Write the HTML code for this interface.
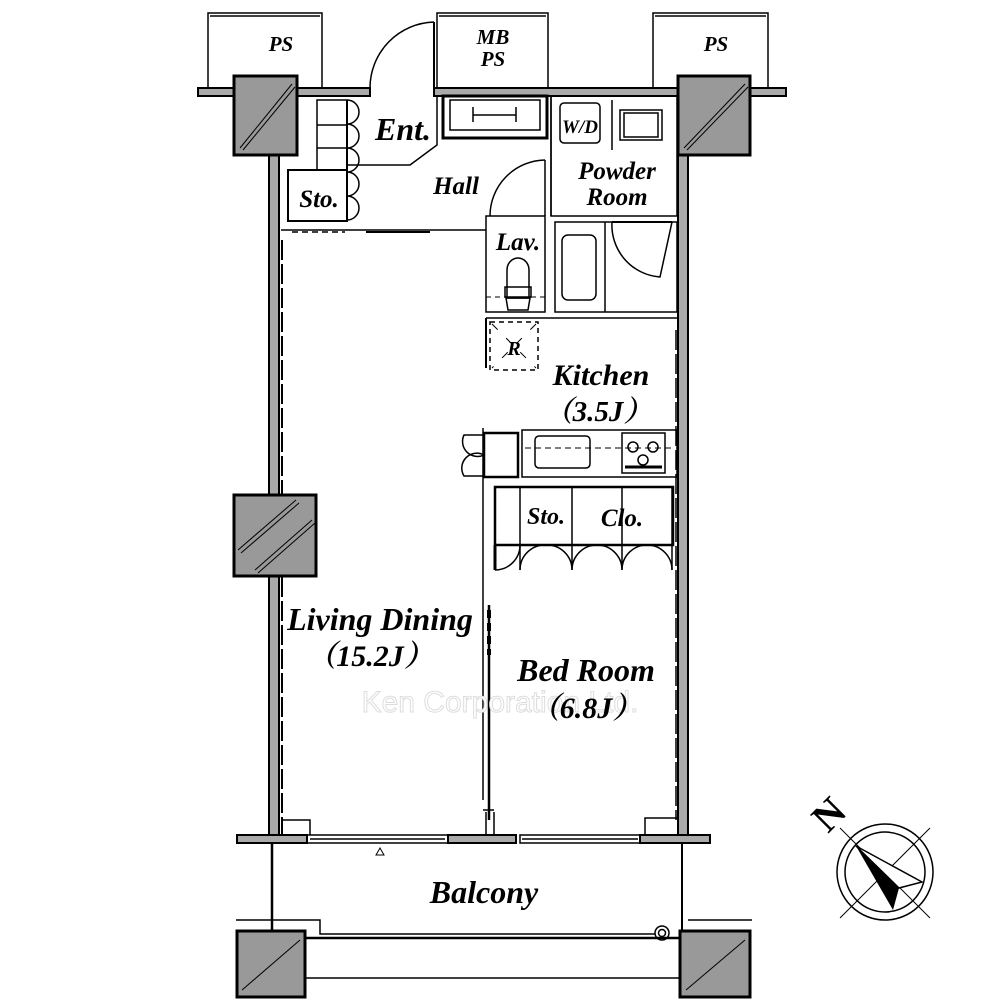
<!DOCTYPE html>
<html><head><meta charset="utf-8"><style>
html,body{margin:0;padding:0;background:#fff}
svg{display:block}
text{font-family:"Liberation Serif","Noto Serif CJK SC",serif;font-weight:bold;font-style:italic;fill:#000}
</style></head><body>
<svg width="1000" height="1000" viewBox="0 0 1000 1000" xmlns="http://www.w3.org/2000/svg">
<g fill="none" stroke="#000" stroke-width="1.5">
<rect x="208" y="13" width="114" height="75"/><line x1="210" y1="16" x2="320" y2="16"/>
<rect x="437" y="13" width="111" height="75"/><line x1="439" y1="16" x2="546" y2="16"/>
<rect x="653" y="13" width="115" height="75"/><line x1="655" y1="16" x2="766" y2="16"/>
</g>
<g fill="#aaa" stroke="#000" stroke-width="2">
<rect x="198" y="88" width="40" height="8"/>
<rect x="295" y="88" width="75" height="8"/>
<rect x="434" y="88" width="246" height="8"/>
<rect x="748" y="88" width="38" height="8"/>
<rect x="269" y="155" width="10" height="682"/>
<rect x="678" y="155" width="10" height="682"/>
<rect x="237" y="835" width="70" height="8"/>
<rect x="448" y="835" width="68" height="8"/>
<rect x="640" y="835" width="70" height="8"/>
</g>
<g fill="#999" stroke="#000" stroke-width="3">
<rect x="234" y="76" width="63" height="79"/>
<rect x="678" y="76" width="72" height="79"/>
<rect x="234" y="495" width="82" height="81"/>
<rect x="237" y="931" width="68" height="66"/>
<rect x="680" y="931" width="70" height="66"/>
</g>
<g stroke="#000" stroke-width="1">
<line x1="240" y1="148" x2="292" y2="84"/><line x1="243" y1="150" x2="295" y2="87"/>
<line x1="684" y1="148" x2="745" y2="84"/><line x1="687" y1="150" x2="748" y2="87"/>
<line x1="238" y1="550" x2="296" y2="500"/><line x1="241" y1="553" x2="299" y2="503"/>
<line x1="255" y1="570" x2="312" y2="520"/><line x1="258" y1="573" x2="315" y2="523"/>
<line x1="242" y1="990" x2="300" y2="940"/><line x1="686" y1="990" x2="745" y2="940"/>
</g>
<g fill="none" stroke="#000" stroke-width="1.5">
<line x1="434" y1="22" x2="434" y2="90" stroke-width="2"/>
<path d="M434 22 A66 66 0 0 0 370 88"/>
<rect x="443" y="96" width="104" height="42" stroke-width="3"/>
<rect x="450" y="100" width="90" height="30"/>
<line x1="473" y1="115" x2="516" y2="115"/><line x1="473" y1="107" x2="473" y2="122"/><line x1="516" y1="107" x2="516" y2="122"/>
<rect x="317" y="100" width="30" height="70"/>
<line x1="317" y1="125" x2="347" y2="125"/><line x1="317" y1="148" x2="347" y2="148"/>
<line x1="347" y1="100" x2="347" y2="222" stroke-width="2"/>
<path d="M347 100 A12 12 0 0 1 347 124 A12 12 0 0 1 347 148 A12 12 0 0 1 347 172 A12 12 0 0 1 347 196 A12 12 0 0 1 347 220"/>
<rect x="288" y="170" width="59" height="51" stroke-width="2"/>
<path d="M347 165 L410 165 L437 145 L437 96"/>
<path d="M281 230 L486 230"/>
<line x1="292" y1="232" x2="345" y2="232" stroke-dasharray="6 4"/>
<line x1="366" y1="232" x2="430" y2="232" stroke-width="2"/>
<line x1="551" y1="96" x2="551" y2="216"/>
<rect x="486" y="216" width="59" height="96"/>
<line x1="545" y1="160" x2="545" y2="216"/>
<path d="M545 160 A56 56 0 0 0 490 216"/>
<path d="M507 298 L507 270 A11 12 0 0 1 529 270 L529 298 Z"/>
<rect x="505" y="287" width="26" height="10"/>
<path d="M506 298 L530 298 L528 310 L508 310 Z"/>
<line x1="486" y1="297" x2="545" y2="297" stroke-dasharray="5 4" stroke-width="1"/>
<rect x="551" y="96" width="126" height="120"/>
<rect x="560" y="103" width="40" height="40" rx="4"/>
<rect x="620" y="110" width="42" height="30"/><rect x="624" y="113" width="34" height="24"/>
<line x1="612" y1="100" x2="612" y2="150"/>
<rect x="555" y="222" width="122" height="90"/>
<line x1="605" y1="222" x2="605" y2="312"/>
<rect x="562" y="235" width="34" height="65" rx="6"/>
<path d="M612 222 A52 52 0 0 0 660 277 L672 222"/>
<line x1="612" y1="222" x2="672" y2="222" stroke-width="2"/>
<rect x="490" y="322" width="48" height="48" stroke-dasharray="5 4"/>
<line x1="492" y1="324" x2="536" y2="368" stroke-dasharray="8 12" stroke-width="1"/>
<line x1="536" y1="324" x2="492" y2="368" stroke-dasharray="8 12" stroke-width="1"/>
<line x1="486" y1="318" x2="486" y2="368" stroke-width="2"/>
<line x1="486" y1="318" x2="677" y2="318"/>
<rect x="522" y="430" width="155" height="47"/>
<rect x="535" y="436" width="55" height="32" rx="4"/>
<line x1="525" y1="448" x2="675" y2="448" stroke-dasharray="6 4" stroke-width="1"/>
<rect x="622" y="433" width="43" height="40"/>
<circle cx="633" cy="447" r="5"/><circle cx="653" cy="447" r="5"/><circle cx="643" cy="460" r="5"/>
<line x1="625" y1="467" x2="662" y2="467" stroke-width="3"/>
<rect x="484" y="433" width="34" height="44" stroke-width="2.5"/>
<line x1="483" y1="428" x2="483" y2="800" />
<path d="M484 435 L464 435 A15 15 0 0 0 484 455 A15 15 0 0 0 464 476 L484 476"/>
<rect x="495" y="487" width="178" height="58" stroke-width="2.5"/>
<line x1="520" y1="487" x2="520" y2="570"/><line x1="572" y1="487" x2="572" y2="570"/>
<line x1="622" y1="487" x2="622" y2="570"/><line x1="672" y1="487" x2="672" y2="570"/>
<line x1="495" y1="545" x2="495" y2="570" stroke-width="3"/>
<path d="M495 570 A25 25 0 0 0 520 545 M520 570 A25 25 0 0 1 546 545 A25 25 0 0 1 572 570 M572 570 A25 25 0 0 1 597 545 A25 25 0 0 1 622 570 M622 570 A25 25 0 0 1 648 545 A25 25 0 0 1 672 570"/>
<line x1="489" y1="605" x2="489" y2="820" stroke-width="2.5"/>
<line x1="489" y1="610" x2="489" y2="655" stroke-width="4" stroke-dasharray="8 5"/>
<path d="M483 810 L494 810 M486 812 L486 835 M494 812 L494 835"/>
<line x1="282" y1="240" x2="282" y2="495" stroke-dasharray="20 4" stroke-width="2"/>
<line x1="282" y1="577" x2="282" y2="835" stroke-dasharray="20 4" stroke-width="2"/>
<line x1="676" y1="330" x2="676" y2="820" stroke-dasharray="20 4" stroke-width="1.5"/>
<rect x="307" y="835" width="141" height="8"/>
<line x1="310" y1="839" x2="445" y2="839"/>
<rect x="520" y="835" width="120" height="8"/>
<line x1="522" y1="839" x2="638" y2="839"/>
<path d="M282 820 L310 820 L310 835 M645 835 L645 818 L678 818"/>
<path d="M376 855 L380 848 L384 855 Z" stroke-width="1"/>
<line x1="272" y1="843" x2="272" y2="931" stroke-width="2.5"/>
<line x1="682" y1="843" x2="682" y2="931" stroke-width="2"/>
<path d="M236 920 L320 920 L320 934 L655 934"/>
<path d="M688 920 L752 920"/>
<line x1="305" y1="938" x2="680" y2="938" stroke-width="2.5"/>
<line x1="305" y1="978" x2="680" y2="978"/>
<circle cx="662" cy="933" r="7"/><circle cx="662" cy="933" r="3.5"/>
<circle cx="885" cy="872" r="48"/>
<circle cx="885" cy="872" r="40"/>
<line x1="840" y1="828" x2="930" y2="918" stroke-width="1"/>
<line x1="930" y1="828" x2="840" y2="918" stroke-width="1"/>
</g>
<path d="M856 846 L899 888 L893 910 Z" fill="#000"/>
<path d="M856 846 L922 882 L899 888 Z" fill="#fff" stroke="#000" stroke-width="1.5"/>
<text x="500" y="712" text-anchor="middle" style="font-family:'Liberation Sans',sans-serif;font-weight:normal;font-style:normal;font-size:30px;fill:#fff;stroke:#ddd;stroke-width:1">Ken Corporation Ltd.</text>
<text x="0" y="0" font-size="40" transform="translate(828,834) rotate(-45)" style="font-style:normal">N</text>
<g font-size="21" text-anchor="middle">
<text x="281" y="51">PS</text>
<text x="493" y="44">MB</text><text x="493" y="66">PS</text>
<text x="716" y="51">PS</text>
<text x="403" y="140" font-size="32">Ent.</text>
<text x="456" y="194" font-size="25">Hall</text>
<text x="319" y="207" font-size="25">Sto.</text>
<text x="580" y="133" font-size="19">W/D</text>
<text x="617" y="179" font-size="25">Powder</text><text x="617" y="205" font-size="25">Room</text>
<text x="518" y="250" font-size="25">Lav.</text>
<text x="514" y="355" font-size="20">R</text>
<text x="601" y="385" font-size="30">Kitchen</text>
<text x="598" y="421" font-size="29">（3.5J）</text>
<text x="546" y="524" font-size="24">Sto.</text>
<text x="622" y="526" font-size="25">Clo.</text>
<text x="380" y="630" font-size="32">Living Dining</text>
<text x="370" y="666" font-size="30">（15.2J）</text>
<text x="586" y="681" font-size="32">Bed Room</text>
<text x="586" y="718" font-size="30">（6.8J）</text>
<text x="484" y="903" font-size="32">Balcony</text>
</g>
</svg>
</body></html>
